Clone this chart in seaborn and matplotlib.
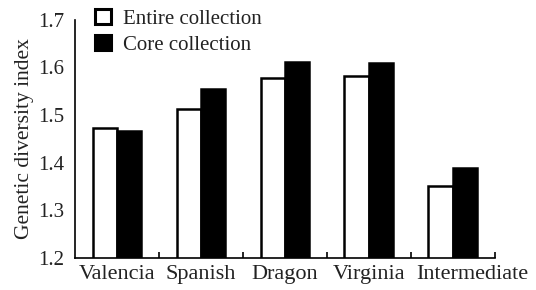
import numpy as np
import pandas as pd
import matplotlib
matplotlib.use("Agg")
import matplotlib.pyplot as plt
import matplotlib.transforms as mtransforms
import seaborn as sns

# values
groups = ["Valencia", "Spanish", "Dragon", "Virginia", "Intermediate"]
entire = [1.472, 1.513, 1.578, 1.583, 1.351]
core = [1.467, 1.555, 1.612, 1.609, 1.388]
series = ["Entire collection", "Core collection"]

df = pd.DataFrame({
    "group": groups * 2,
    "value": entire + core,
    "series": [series[0]] * len(groups) + [series[1]] * len(groups),
})

sns.set_style("white")
plt.rcParams["font.family"] = ["Liberation Serif", "DejaVu Serif"]

fig = plt.figure(figsize=(5.36, 2.9), dpi=100)
ax = fig.add_axes([0.140, 0.110, 0.783, 0.822])

sns.barplot(data=df, x="group", y="value", hue="series", order=groups,
            hue_order=series, palette=["white", "black"], edgecolor="black",
            linewidth=1.8, width=0.58, gap=0, ax=ax, legend=True)

ax.set_ylim(1.2, 1.7)
ax.set_xlim(-0.5, len(groups) - 0.5)
ax.set_yticks([1.2, 1.3, 1.4, 1.5, 1.6, 1.7])
ax.set_yticklabels(["1.2", "1.3", "1.4", "1.5", "1.6", "1.7"])
ax.set_xlabel("")
ax.set_ylabel("Genetic diversity index", fontsize=15.5, labelpad=3)

for s in ["top", "right"]:
    ax.spines[s].set_visible(False)
for s in ["left", "bottom"]:
    ax.spines[s].set_color("black")
    ax.spines[s].set_linewidth(1.2)

ax.tick_params(axis="both", which="major", length=0, labelsize=16, colors="#222222")
ax.tick_params(axis="y", labelsize=15, pad=8)
ax.tick_params(axis="x", pad=5)
ax.set_xticks(np.arange(len(groups)) + 0.5, minor=True)
ax.tick_params(axis="x", which="minor", direction="in", length=4, width=1.2,
               color="black", bottom=True)

# last label sits a bit right of its group in the original
last = ax.get_xticklabels()[-1]
last.set_transform(last.get_transform() +
                   mtransforms.ScaledTranslation(0.2, 0, fig.dpi_scale_trans))

leg = ax.legend(loc="upper left", bbox_to_anchor=(0.028, 1.08), frameon=False,
                fontsize=15, handlelength=0.75, handleheight=0.75,
                handletextpad=0.6, labelspacing=0.3, borderaxespad=0)
for h in leg.legend_handles:
    h.set_edgecolor("black")
    h.set_linewidth(2.2)
for t in leg.get_texts():
    t.set_color("#222222")
ax.yaxis.label.set_color("#222222")

fig.savefig("out.png", dpi=100)
